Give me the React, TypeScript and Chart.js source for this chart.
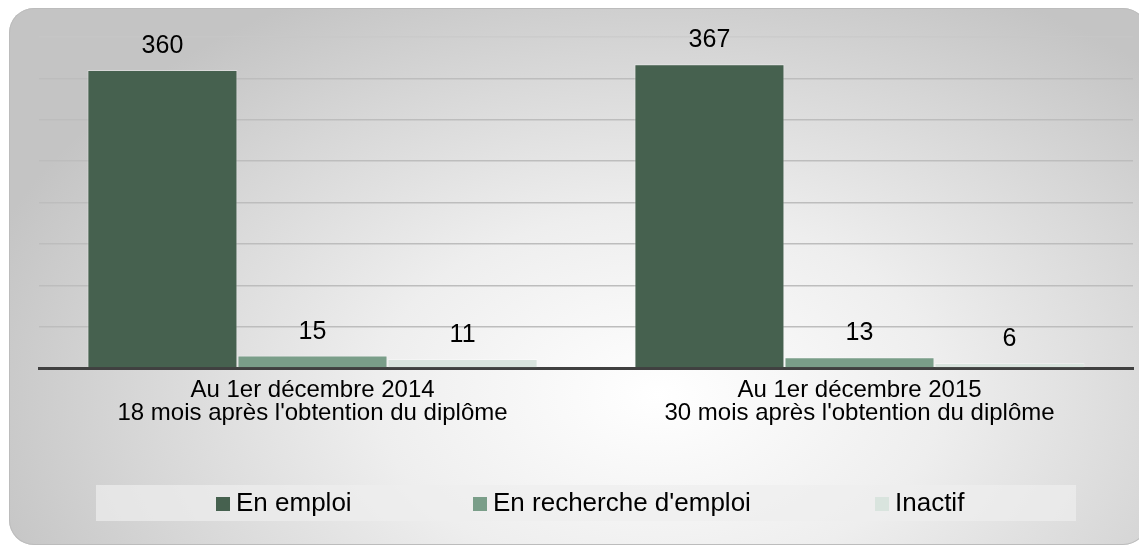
import React, { useEffect, useRef } from "react";
import { Chart, registerables } from "chart.js";

Chart.register(...registerables);

const categories: string[][] = [
  ["Au 1er décembre 2014", "18 mois après l'obtention du diplôme"],
  ["Au 1er décembre 2015", "30 mois après l'obtention du diplôme"],
];
const seriesNames = ["En emploi", "En recherche d'emploi", "Inactif"];
const enEmploi = [360, 367];
const enRecherche = [15, 13];
const inactif = [11, 6];
const yMax = 400;
const yStep = 50;
const seriesColors = ["#46614f", "#7a9e89", "#d9e4de"];

const FONT = "'Liberation Sans', Arial, sans-serif";

const valueLabels = {
  id: "valueLabels",
  afterDatasetsDraw(chart: any) {
    const ctx = chart.ctx;
    ctx.save();
    ctx.font = `25px ${FONT}`;
    ctx.fillStyle = "#000";
    ctx.textAlign = "center";
    ctx.textBaseline = "alphabetic";
    chart.data.datasets.forEach((ds: any, di: number) => {
      const meta = chart.getDatasetMeta(di);
      meta.data.forEach((bar: any, i: number) => {
        ctx.fillText(String(ds.data[i]), bar.x, bar.y - 17);
      });
    });
    ctx.restore();
  },
};

const customLegend = {
  id: "customLegend",
  afterDraw(chart: any) {
    const ctx = chart.ctx;
    ctx.save();
    ctx.fillStyle = "rgba(238,238,238,0.7)";
    ctx.fillRect(87, 477, 980, 36);
    const xs = [207, 464, 866];
    ctx.font = `26px ${FONT}`;
    ctx.textBaseline = "middle";
    ctx.textAlign = "left";
    chart.data.datasets.forEach((ds: any, i: number) => {
      ctx.fillStyle = ds.backgroundColor;
      ctx.fillRect(xs[i], 489, 14, 14);
      ctx.fillStyle = "#000";
      ctx.fillText(ds.label, xs[i] + 20, 496);
    });
    ctx.restore();
  },
};

export default function App() {
  const ref = useRef<HTMLCanvasElement | null>(null);
  useEffect(() => {
    if (!ref.current) return;
    const seriesData = [enEmploi, enRecherche, inactif];
    const chart = new Chart(ref.current, {
      type: "bar",
      data: {
        labels: categories,
        datasets: seriesNames.map((name, i) => ({
          label: name,
          data: seriesData[i],
          backgroundColor: seriesColors[i],
          borderColor: "rgba(255,255,255,0.35)",
          borderWidth: 1,
          categoryPercentage: 0.823,
          barPercentage: 1,
        })),
      },
      options: {
        animation: false,
        responsive: true,
        maintainAspectRatio: false,
        layout: { padding: { left: 30, right: 15, top: 29, bottom: 0 } },
        plugins: {
          legend: { display: false },
          tooltip: { enabled: false },
        },
        scales: {
          x: {
            grid: { display: false },
            border: { display: true, color: "#404040", width: 3 },
            ticks: {
              color: "#000",
              font: { family: FONT, size: 24, lineHeight: 0.96 },
              padding: 3,
              maxRotation: 0,
              autoSkip: false,
            },
            afterFit: (scale: any) => {
              scale.height = 177;
            },
          },
          y: {
            min: 0,
            max: yMax,
            ticks: { display: false, stepSize: yStep },
            border: { display: false },
            grid: {
              drawTicks: false,
              lineWidth: 1.5,
              color: (c: any) =>
                c.tick && c.tick.value === yMax
                  ? "rgba(200,200,200,0.6)"
                  : c.tick && c.tick.value === 0
                  ? "rgba(0,0,0,0)"
                  : "#bdbdbd",
            },
            afterFit: (scale: any) => {
              scale.width = 0;
            },
          },
        },
      },
      plugins: [valueLabels, customLegend],
    });
    return () => chart.destroy();
  }, []);

  return (
    <div
      style={{
        position: "relative",
        width: 1139,
        height: 537,
        marginLeft: 1,
        borderRadius: 25,
        background:
          "radial-gradient(ellipse 62% 85% at 57% 72%, #ffffff 0%, #eeeeee 40%, #d6d6d6 75%, #c4c4c4 100%)",
        boxShadow: "inset 0 0 0 1px #bcbcbc",
        overflow: "hidden",
      }}
    >
      <canvas ref={ref} style={{ position: "absolute", left: 0, top: 0 }} />
    </div>
  );
}
